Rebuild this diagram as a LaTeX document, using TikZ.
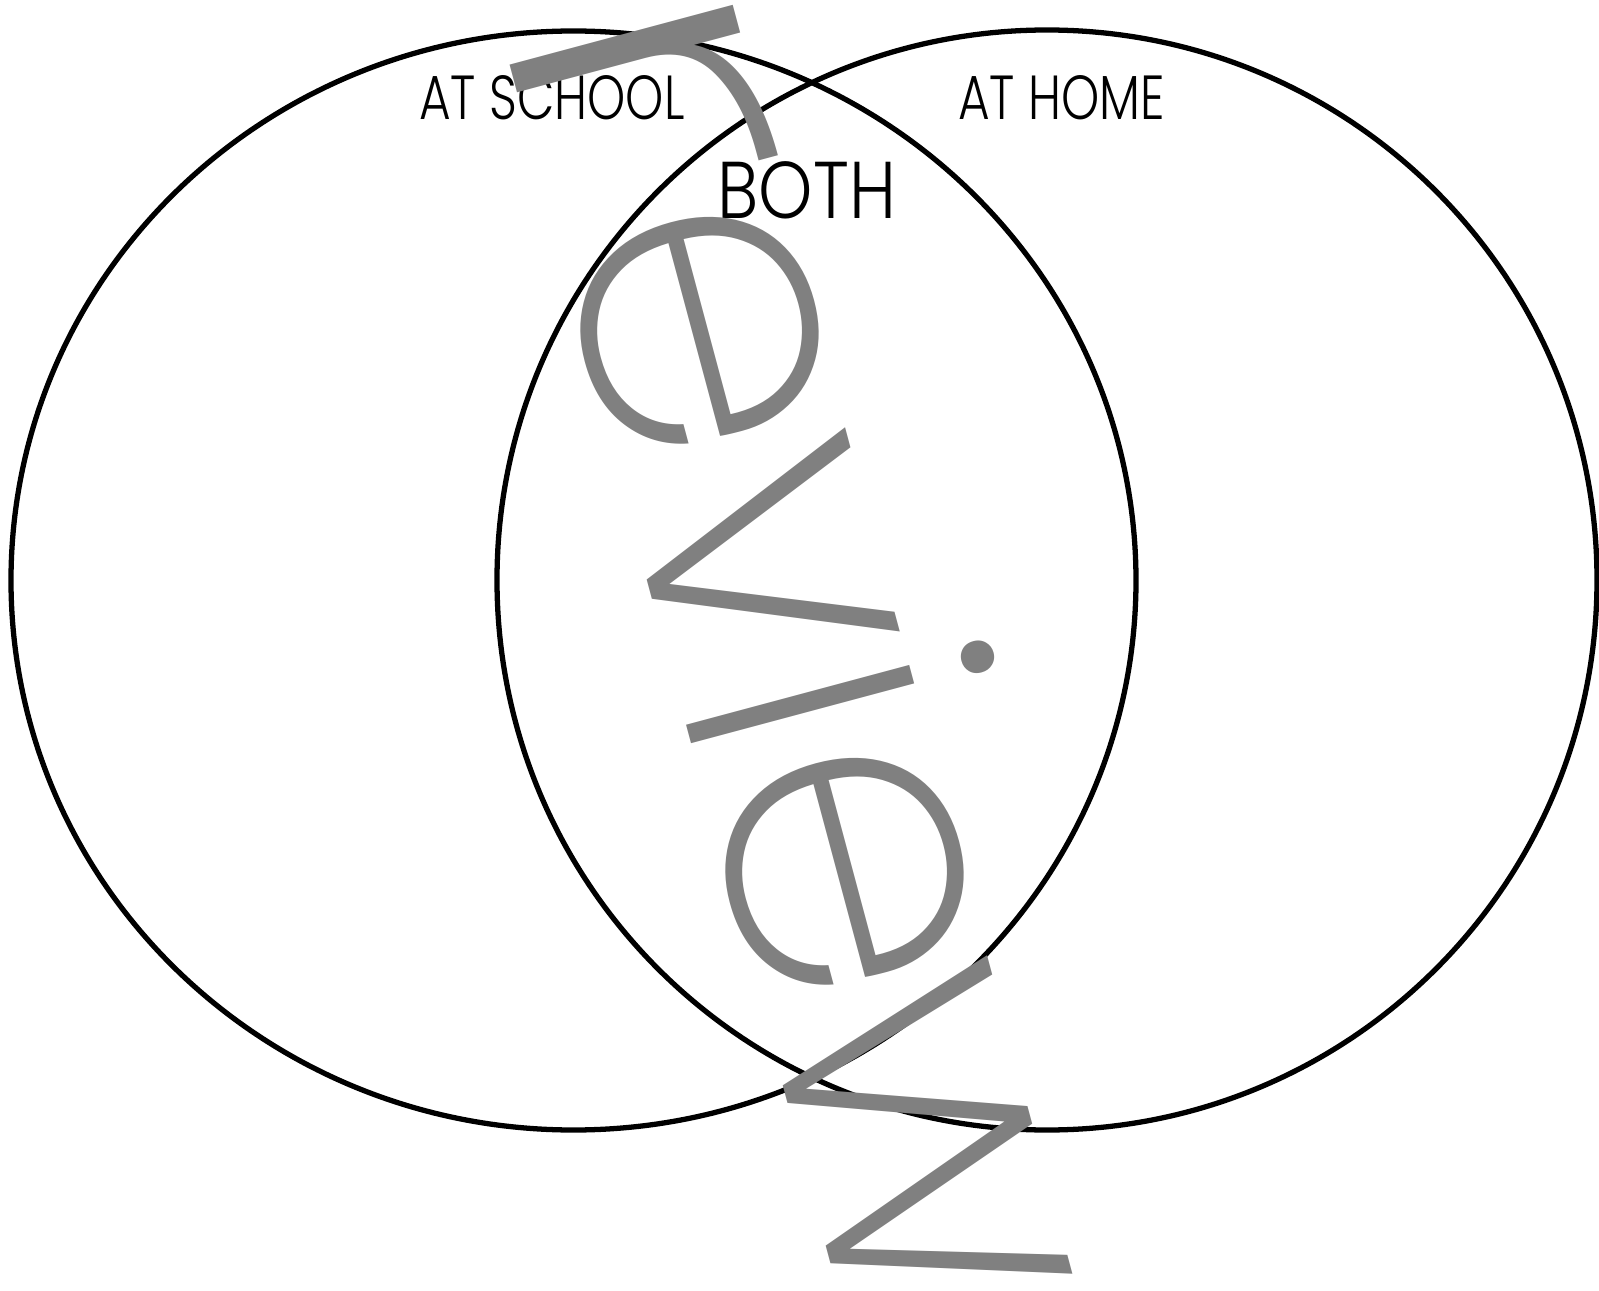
\documentclass[tikz,border=0pt]{standalone}
\usepackage{fontspec}
\setmainfont{Liberation Sans}
\newfontfamily\lblfont{Poppins Light}
\newfontfamily\wmfont{Poppins ExtraLight}
\definecolor{cwmark}{RGB}{128,128,128}

\begin{document}
\begin{tikzpicture}[x=0.01cm, y=-0.01cm,
  venn/.style={draw=black, line width=1.5pt},
  lbl/.style={font=\lblfont\fontsize{17.7}{20}\selectfont, xscale=0.78, inner sep=0pt, anchor=base},
  wmark/.style={font=\wmfont\fontsize{121}{125}\selectfont, text=cwmark, inner sep=0pt, anchor=base}]
\useasboundingbox (0,0) rectangle (1599,1291);
\clip (0,0) rectangle (1599,1291);
% the two sets
\draw[venn] (573.5,580.5) ellipse [x radius=562.5, y radius=549.5];
\draw[venn] (1047,580) ellipse [x radius=550, y radius=550];
% set labels
\node[lbl] (school) at (552,120) {AT SCHOOL};
\node[lbl] (home) at (1061.5,120) {AT HOME};
\node[lbl, font=\lblfont\fontsize{22.9}{26}\selectfont, xscale=1.1] (both) at (807,219) {BOTH};
% watermark
\node[wmark, rotate=-75] (wm) at (643.6,565.7)
  {P\scalebox{1.5}[1]{r}e\kern-2.08pt v\kern-2.08pt i\kern-2.08pt e\kern-5.69pt w};
\end{tikzpicture}
\end{document}
